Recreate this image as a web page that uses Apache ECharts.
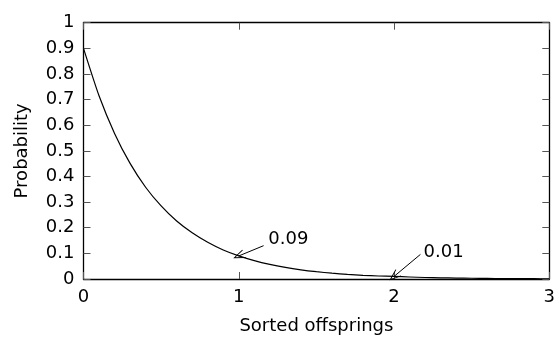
<!DOCTYPE html>
<html>
<head>
<meta charset="utf-8">
<script src="https://cdn.jsdelivr.net/npm/echarts@6/dist/echarts.min.js"></script>
<style>
  html, body { margin: 0; padding: 0; background: #fff; }
  #chart { width: 559px; height: 340px; }
</style>
</head>
<body>
<div id="chart"></div>
<script>
// Probability of each sorted offspring position
const xValues = [0, 0.1, 0.2, 0.3, 0.4, 0.5, 0.6, 0.7, 0.8, 0.9, 1.0,
                 1.1, 1.2, 1.3, 1.4, 1.5, 1.6, 1.7, 1.8, 1.9, 2.0,
                 2.1, 2.2, 2.3, 2.4, 2.5, 2.6, 2.7, 2.8, 2.9, 3.0];
const probabilities = [0.9, 0.715, 0.568, 0.451, 0.358, 0.285, 0.226, 0.18, 0.143, 0.113, 0.09,
                       0.0715, 0.0568, 0.0451, 0.0358, 0.0285, 0.0226, 0.018, 0.0143, 0.0118, 0.01,
                       0.0078, 0.0059, 0.0046, 0.0036, 0.0029, 0.0023, 0.0018, 0.0014, 0.0011, 0.0009];

// Annotated points: arrow tip on the curve, arrow tail, text anchor
const noteTips = [[1, 0.09], [2, 0.01]];
const noteTails = [[1.16, 0.13], [2.17, 0.096]];
const noteTextPos = [[1.19, 0.155], [2.19, 0.103]];
const noteTexts = ['0.09', '0.01'];

const xTicks = ['0', '1', '2', '3'];

const FONT = 'DejaVu Sans';
const FS = 18;
const chart = echarts.init(document.getElementById('chart'));

// open chevron arrow head, tip at the top
const arrowHead = 'path://M5,0 L0,10 L0.9,10.4 L5,2.2 L9.1,10.4 L10,10 Z';

const axisCommon = {
  type: 'value',
  splitLine: { show: false },
  axisLine: { show: true, onZero: false, lineStyle: { color: '#000', width: 1.3 } },
  axisTick: { show: true, inside: true, length: 7, lineStyle: { color: '#555', width: 1 } }
};

chart.setOption({
  animation: false,
  backgroundColor: '#fff',
  grid: { left: 83.5, right: 9.7, top: 22.7, bottom: 56, containLabel: false },
  xAxis: [
    Object.assign({}, axisCommon, {
      position: 'bottom', min: 0, max: 3, interval: 1,
      name: 'Sorted offsprings', nameLocation: 'middle', nameGap: 38,
      nameTextStyle: { fontFamily: FONT, fontSize: FS, color: '#000' },
      axisLabel: {
        fontFamily: FONT, fontSize: FS, color: '#000', margin: 9,
        formatter: v => xTicks[Math.round(v)]
      }
    }),
    Object.assign({}, axisCommon, {
      position: 'top', min: 0, max: 3, interval: 1,
      axisLabel: { show: false }
    })
  ],
  yAxis: [
    Object.assign({}, axisCommon, {
      position: 'left', min: 0, max: 1, interval: 0.1,
      name: 'Probability', nameLocation: 'middle', nameGap: 52, nameRotate: 90,
      nameTextStyle: { fontFamily: FONT, fontSize: FS, color: '#000' },
      axisLabel: {
        fontFamily: FONT, fontSize: FS, color: '#000', margin: 9,
        formatter: v => String(Math.round(v * 10) / 10)
      }
    }),
    Object.assign({}, axisCommon, {
      position: 'right', min: 0, max: 1, interval: 0.1,
      axisLabel: { show: false }
    })
  ],
  series: [
    {
      type: 'line',
      data: xValues.map((x, i) => [x, probabilities[i]]),
      showSymbol: false,
      symbol: 'none',
      smooth: 0.2,
      lineStyle: { color: '#000', width: 1.2 },
      markLine: {
        silent: true,
        symbol: ['none', arrowHead],
        symbolSize: [9, 12],
        label: { show: false },
        lineStyle: { color: '#000', width: 1, type: 'solid' },
        data: noteTips.map((tip, i) => [
          { coord: noteTails[i] },
          { coord: tip }
        ])
      }
    },
    {
      type: 'scatter',
      symbolSize: 0,
      silent: true,
      itemStyle: { opacity: 1 },
      data: noteTextPos.map((p, i) => ({ value: p, name: noteTexts[i] })),
      label: {
        show: true, position: 'right', distance: 0,
        fontFamily: FONT, fontSize: FS, color: '#000',
        formatter: p => p.name
      }
    }
  ]
});
</script>
</body>
</html>
